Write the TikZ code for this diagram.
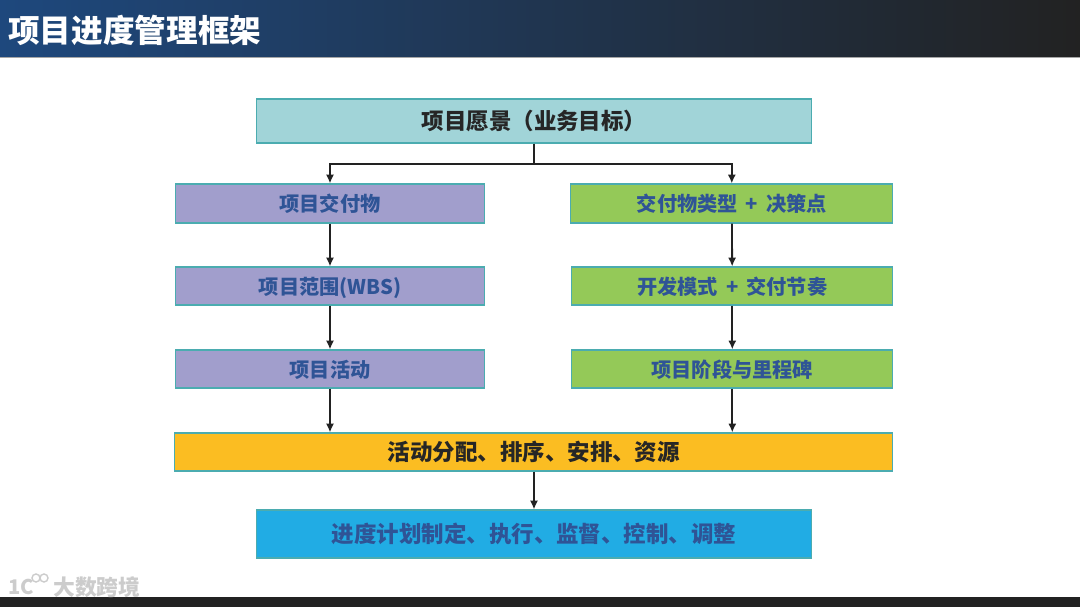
\documentclass[tikz,border=0pt]{standalone}
\usepackage{fontspec}
\setmainfont{Noto Sans CJK SC}
\usetikzlibrary{arrows.meta}
\definecolor{titleblue}{RGB}{30,72,125}
\definecolor{titlemid}{RGB}{38,66,106}
\definecolor{barblack}{RGB}{34,34,34}
\definecolor{boxedge}{RGB}{75,172,176}
\definecolor{tealfill}{RGB}{161,212,216}
\definecolor{purplefill}{RGB}{161,158,204}
\definecolor{greenfill}{RGB}{148,201,88}
\definecolor{yellowfill}{RGB}{251,189,34}
\definecolor{bluefill}{RGB}{33,172,228}
\definecolor{inkblue}{RGB}{47,84,150}
\tikzset{
  box/.style={draw=boxedge,line width=0.6pt,inner sep=0pt,text height=10.4pt,text depth=1.2pt,font=\bfseries\fontsize{11.5}{13}\selectfont,text=inkblue},
  bigbox/.style={box,text height=11.6pt,text depth=1.4pt,font=\bfseries\fontsize{12.8}{15}\selectfont},
  link/.style={draw=barblack,line width=1.05pt,-{Latex[length=5pt,width=4.6pt]}},
  stem/.style={draw=barblack,line width=1.05pt}
}
\begin{document}
\begin{tikzpicture}[x=0.02cm,y=-0.02cm]
\useasboundingbox (0,0) rectangle (1080,607);
% bars
\path[fill=white] (0,0) rectangle (1080,607);
\shade[left color=titleblue,middle color=titlemid,right color=barblack] (0,0) rectangle (1080,57);
\draw[gray!70,line width=0.6pt] (0,57.3)--(1080,57.3);
\fill[barblack] (0,597) rectangle (1080,607);
\node[right,inner sep=0pt,text=white,font=\bfseries\fontsize{18}{20}\selectfont] (title) at (8,30.5) {项目进度管理框架};
% watermark
\node[right,inner sep=0pt,text=black!20,font=\bfseries\fontsize{11.5}{13}\selectfont] (mark) at (8,587) {1C};
\draw[black!20,line width=0.8pt] (36,578) circle (4);
\draw[black!20,line width=0.8pt] (44,578) circle (4);
\node[right,inner sep=0pt,text=black!20,font=\bfseries\fontsize{12.4}{14}\selectfont] (brand) at (53,587) {大数跨境};
% boxes
\node[bigbox,fill=tealfill,text=black!85,minimum width=11.1cm,minimum height=0.88cm] (vision) at (534,121) {项目愿景（业务目标）};
\node[box,fill=purplefill,minimum width=6.2cm,minimum height=0.78cm] (deliver) at (330,203.5) {项目交付物};
\node[box,fill=purplefill,minimum width=6.18cm,minimum height=0.76cm] (scope) at (330,286) {项目范围(WBS)};
\node[box,fill=purplefill,minimum width=6.18cm,minimum height=0.76cm] (activity) at (330,369) {项目活动};
\node[box,fill=greenfill,minimum width=6.44cm,minimum height=0.78cm] (dtype) at (731.8,203.5) {交付物类型\ \,+\ \,决策点};
\node[box,fill=greenfill,minimum width=6.42cm,minimum height=0.76cm] (mode) at (732.3,286) {开发模式\ \,+\ \,交付节奏};
\node[box,fill=greenfill,minimum width=6.42cm,minimum height=0.76cm] (phase) at (732.3,369) {项目阶段与里程碑};
\node[bigbox,fill=yellowfill,text=black!85,minimum width=14.36cm,minimum height=0.76cm] (alloc) at (533.8,452) {活动分配、排序、安排、资源};
\node[bigbox,fill=bluefill,minimum width=11.1cm,minimum height=0.96cm] (plan) at (534,534) {进度计划制定、执行、监督、控制、调整};
% connectors
\coordinate (fork) at (534,164);
\draw[stem] (vision.south)--(fork);
\draw[link] (fork)-|(deliver.north);
\draw[link] (fork)-|(dtype.north);
\draw[link] (deliver)--(scope);
\draw[link] (scope)--(activity);
\draw[link] (activity.south)--(activity.south |- alloc.north);
\draw[link] (dtype)--(mode);
\draw[link] (mode)--(phase);
\draw[link] (phase.south)--(phase.south |- alloc.north);
\draw[link] (alloc.south -| plan.south)--(plan.north);
\end{tikzpicture}
\end{document}
